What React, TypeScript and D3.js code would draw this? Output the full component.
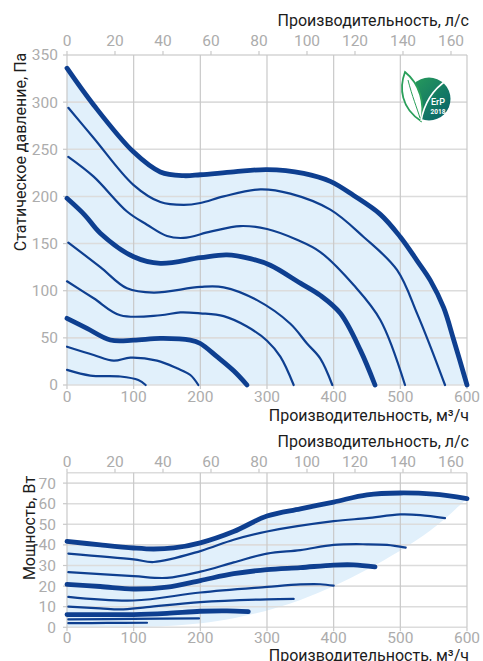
import React from 'react';
import * as d3 from 'd3';

type Pt = [number, number];

// ---- ticks ----
const flowTicks = [0, 100, 200, 300, 400, 500, 600];
const lsTicks = [0, 20, 40, 60, 80, 100, 120, 140, 160];
const pressureTicks = [0, 50, 100, 150, 200, 250, 300, 350];
const powerTicks = [0, 10, 20, 30, 40, 50, 60, 70];

// ---- static pressure curves (m3/h, Pa) ----
const p1: Pt[] = [[0, 336], [40, 297], [100, 247], [140, 226], [175, 222], [200, 223], [250, 226], [300, 228.5], [355, 224.5], [395, 216], [430, 201], [470, 181], [500, 157], [525, 132], [545, 111], [565, 82], [580, 48], [600, 0]];
const p2: Pt[] = [[2, 294], [40, 262], [100, 212], [140, 194], [175, 191], [200, 193], [235, 200], [290, 207.5], [335, 203], [395, 186], [445, 157], [495, 122], [525, 76], [545, 41], [567, 0]];
const p3: Pt[] = [[2, 242], [40, 221], [90, 184], [120, 170], [150, 158], [175, 156], [215, 162.6], [260, 168.6], [300, 165.4], [345, 154], [380, 141], [430, 106], [470, 69], [507, 0]];
const p4: Pt[] = [[0, 198], [27, 180], [50, 161], [100, 136], [140, 129], [200, 135], [240, 138], [275, 134], [305, 127], [350, 108], [380, 95], [410, 76], [440, 37], [462, 0]];
const p5: Pt[] = [[2, 151], [50, 125], [90, 102.5], [130, 98], [200, 104], [235, 103.6], [285, 90], [335, 65], [360, 44], [380, 28], [398, 0]];
const p6: Pt[] = [[0, 110], [40, 92], [80, 74], [140, 74], [170, 77], [200, 76], [235, 73], [270, 62], [300, 47], [320, 30], [340, 0]];
const p7: Pt[] = [[0, 70.7], [30, 60], [65, 47.7], [100, 47.5], [140, 49.5], [185, 47.7], [200, 44], [225, 30], [250, 15], [270, 0]];
const p8: Pt[] = [[0, 40.6], [40, 31.8], [70, 25.8], [95, 29], [135, 25.8], [165, 17.7], [185, 10.6], [197, 0]];
const p9: Pt[] = [[0, 16], [35, 10], [80, 9], [107, 5.3], [118, 0]];

// ---- power curves (m3/h, W) ----
const w1: Pt[] = [[0, 41.7], [50, 40], [100, 38.5], [130, 38], [160, 38.5], [200, 41], [250, 46.5], [300, 54], [350, 57.5], [400, 60.8], [450, 64.3], [500, 65.2], [550, 64.6], [600, 62.5]];
const w2: Pt[] = [[2, 35.8], [100, 33], [130, 31.7], [200, 37], [250, 42.5], [300, 46.5], [400, 51.5], [450, 53], [500, 54.8], [530, 54.5], [567, 53]];
const w3: Pt[] = [[2, 26.8], [100, 24.8], [150, 24], [200, 27], [250, 31.5], [300, 35.8], [350, 37.5], [400, 40], [450, 40.3], [480, 40], [508, 38.7]];
const w4: Pt[] = [[0, 20.8], [50, 19.8], [100, 18.6], [150, 19.5], [200, 22.7], [250, 26], [300, 28], [350, 29], [400, 30.2], [430, 30.3], [462, 29.3]];
const w5: Pt[] = [[2, 14.8], [100, 13], [200, 16.9], [300, 19.6], [350, 20.8], [380, 20.9], [400, 20.2]];
const w6: Pt[] = [[2, 10], [50, 9.2], [80, 8.7], [120, 9.8], [200, 12.2], [300, 13.6], [340, 13.8]];
const w7: Pt[] = [[0, 6.2], [100, 6.2], [150, 6.8], [200, 7.8], [240, 8], [272, 7.6]];
const w8: Pt[] = [[2, 3.8], [100, 4.1], [198, 4.3]];
const w9: Pt[] = [[2, 2], [60, 2.1], [120, 2.2]];
const powerLowerBound: Pt[] = [[0, 0], [150, 0.6], [250, 4.4], [350, 13.3], [450, 28], [545, 47], [600, 62.5]];

const pressureCurves = [p1, p2, p3, p4, p5, p6, p7, p8, p9];
const powerCurves = [w1, w2, w3, w4, w5, w6, w7, w8, w9];
const thickIdx = [0, 3, 6];

const LINE = '#0e3f90';
const FILL = '#e1f0fb';
const GRID = '#c9c9c9';
const GRIDH = '#dcdcdc';
const TICK = '#acacac';
const TITLE = '#1c1c1c';
const FONT = 'Roboto, "Noto Sans", sans-serif';

export default function App() {
  const x = d3.scaleLinear().domain([0, 600]).range([67, 467]);
  const ls = d3.scaleLinear().domain([0, 600 / 3.6]).range([67, 467]);
  const yP = d3.scaleLinear().domain([0, 350]).range([385, 55]);
  const yW = d3.scaleLinear().domain([0, 75]).range([627.3, 472.8]);

  const curve = d3.curveCatmullRom.alpha(0.5);
  const lineP = d3.line<Pt>().x(d => x(d[0])).y(d => yP(d[1])).curve(curve);
  const areaP = d3.area<Pt>().x(d => x(d[0])).y0(yP(0)).y1(d => yP(d[1])).curve(curve);
  const lineW = d3.line<Pt>().x(d => x(d[0])).y(d => yW(d[1])).curve(curve);

  const upper = lineW(w1) || '';
  const lower = (lineW([...powerLowerBound].reverse()) || '').replace(/^M/, 'L');
  const powerFill = upper + lower + 'Z';

  const fs = 15.5;
  const tfs = 16;

  const frame = (yScale: d3.ScaleLinear<number, number>, ticks: number[], top: number, bottom: number) => (
    <g>
      {ticks.map(t => (
        <line key={'h' + t} x1={x(0)} x2={x(600)} y1={yScale(t)} y2={yScale(t)} stroke={GRIDH} strokeWidth={1.6} />
      ))}
      <line x1={x(0)} x2={x(600)} y1={top} y2={top} stroke={GRIDH} strokeWidth={1.6} />
      {flowTicks.map(t => (
        <line key={'v' + t} x1={x(t)} x2={x(t)} y1={top} y2={bottom} stroke={GRID} strokeWidth={1.2} />
      ))}
      {ticks.map(t => (
        <line key={'yt' + t} x1={x(0) - 4} x2={x(0)} y1={yScale(t)} y2={yScale(t)} stroke={GRID} strokeWidth={1.2} />
      ))}
      {lsTicks.map(t => (
        <line key={'lt' + t} x1={ls(t)} x2={ls(t)} y1={top - 4} y2={top} stroke={GRID} strokeWidth={1.2} />
      ))}
      {flowTicks.map(t => (
        <line key={'bt' + t} x1={x(t)} x2={x(t)} y1={bottom} y2={bottom + 4} stroke={GRID} strokeWidth={1.2} />
      ))}
    </g>
  );

  return (
    <svg width={483} height={661} style={{ position: 'absolute', left: 0, top: 0 }} fontFamily={FONT}>
      <rect x={0} y={0} width={483} height={661} fill="#fff" />
      {/* ===== top chart ===== */}
      <path d={areaP(p1) || ''} fill={FILL} />
      {frame(yP, pressureTicks, yP(350), yP(0))}
      {pressureCurves.map((c, i) => (
        <path key={'p' + i} d={lineP(c) || ''} fill="none" stroke={LINE}
          strokeWidth={thickIdx.includes(i) ? 4.8 : 2.2} strokeLinecap="round" />
      ))}
      {pressureTicks.map(t => (
        <text key={'pl' + t} x={58} y={yP(t)} dy="0.35em" textAnchor="end" fill={TICK} fontSize={fs}>{t}</text>
      ))}
      {flowTicks.map(t => (
        <text key={'fl' + t} x={x(t)} y={402} textAnchor="middle" fill={TICK} fontSize={fs}>{t}</text>
      ))}
      {lsTicks.map(t => (
        <text key={'ll' + t} x={ls(t)} y={46} textAnchor="middle" fill={TICK} fontSize={fs}>{t}</text>
      ))}
      <text x={469} y={26} textAnchor="end" fill={TITLE} fontSize={tfs}>Производительность, л/с</text>
      <text x={469} y={421} textAnchor="end" fill={TITLE} fontSize={tfs}>Производительность, м³/ч</text>
      <text transform="translate(26,152) rotate(-90)" textAnchor="middle" fill={TITLE} fontSize={tfs}>Статическое давление, Па</text>

      {/* ErP logo */}
      <defs>
        <linearGradient id="erpg" x1="0" y1="0" x2="1" y2="1">
          <stop offset="0" stopColor="#2a9f5a" />
          <stop offset="1" stopColor="#05606b" />
        </linearGradient>
      </defs>
      <circle cx={429} cy={99} r={21.5} fill="url(#erpg)" />
      <path d="M 405 72 C 399 88, 401 108, 421 121 C 425 104, 420 84, 405 72 Z" fill="#fff" stroke="#2a9f5a" strokeWidth={1.8} />
      <path d="M 408 80 C 412 96, 417 108, 420 118" fill="none" stroke="#2a9f5a" strokeWidth={1} />
      <path d="M 421 121 C 424 104, 432 90, 447 80" fill="none" stroke="#fff" strokeWidth={1.6} />
      <text x={438} y={105} textAnchor="middle" fill="#fff" fontSize={9} fontWeight={500}>ErP</text>
      <text x={438} y={114} textAnchor="middle" fill="#fff" fontSize={6.5} fontWeight={700}>2018</text>

      {/* ===== bottom chart ===== */}
      <path d={powerFill} fill={FILL} />
      {frame(yW, powerTicks, yW(75), yW(0))}
      {powerCurves.map((c, i) => (
        <path key={'w' + i} d={lineW(c) || ''} fill="none" stroke={LINE}
          strokeWidth={thickIdx.includes(i) ? 4.8 : 2.2} strokeLinecap="round" />
      ))}
      {powerTicks.map(t => (
        <text key={'wl' + t} x={56} y={yW(t)} dy="0.35em" textAnchor="end" fill={TICK} fontSize={fs}>{t}</text>
      ))}
      {flowTicks.map(t => (
        <text key={'fb' + t} x={x(t)} y={643} textAnchor="middle" fill={TICK} fontSize={fs}>{t}</text>
      ))}
      {lsTicks.map(t => (
        <text key={'lb' + t} x={ls(t)} y={467} textAnchor="middle" fill={TICK} fontSize={fs}>{t}</text>
      ))}
      <text x={469} y={447} textAnchor="end" fill={TITLE} fontSize={tfs}>Производительность, л/с</text>
      <text x={469} y={661} textAnchor="end" fill={TITLE} fontSize={tfs}>Производительность, м³/ч</text>
      <text transform="translate(35,528) rotate(-90)" textAnchor="middle" fill={TITLE} fontSize={tfs}>Мощность, Вт</text>
    </svg>
  );
}
